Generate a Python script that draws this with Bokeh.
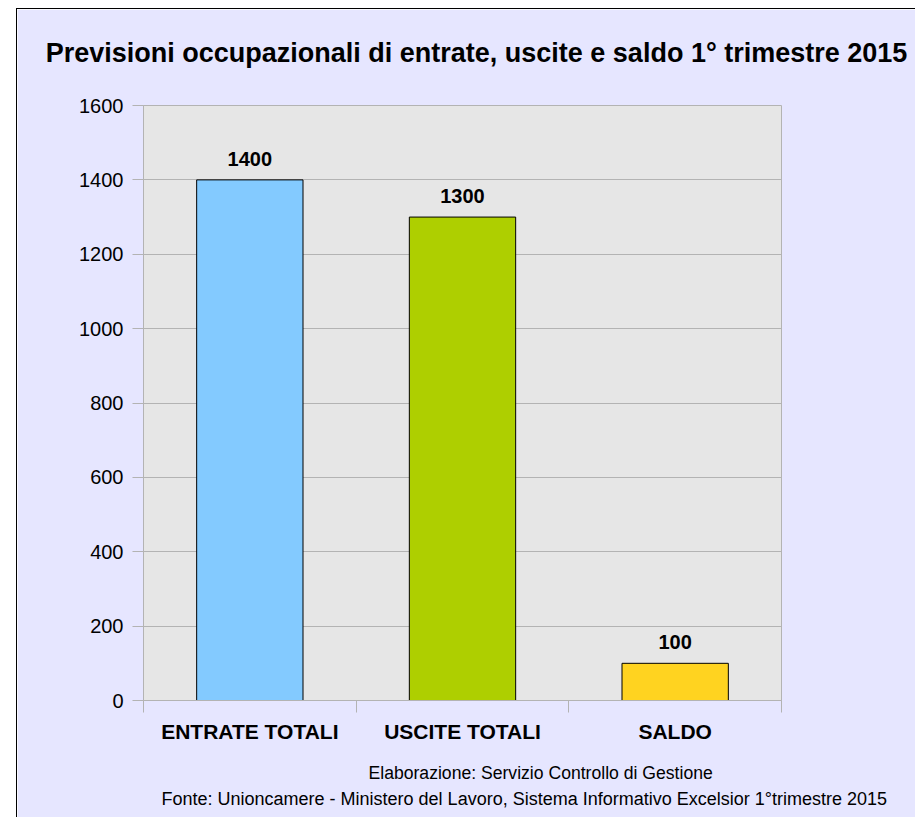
from bokeh.plotting import figure
from bokeh.models import ColumnDataSource, FixedTicker, Label, LabelSet, Spacer, Title
from bokeh.layouts import row, column
from bokeh.core.properties import value
from bokeh.embed import file_html
from bokeh.resources import INLINE

# ---- data ----
categories = ["ENTRATE TOTALI", "USCITE TOTALI", "SALDO"]
values = [1400, 1300, 100]
colors = ["#83CAFF", "#AECF00", "#FFD320"]
y_ticks = [0, 200, 400, 600, 800, 1000, 1200, 1400, 1600]
title_text = "Previsioni occupazionali di entrate, uscite e saldo 1° trimestre 2015"
note1 = "Elaborazione: Servizio Controllo di Gestione"
note2 = "Fonte: Unioncamere - Ministero del Lavoro, Sistema Informativo Excelsior 1°trimestre 2015"

FONT = "Liberation Sans"
GRID = "#B3B3B3"

positions = [i + 0.5 for i in range(len(categories))]
source = ColumnDataSource(dict(x=positions, top=values, color=colors,
                               label=[str(v) for v in values]))

p = figure(frame_width=637, frame_height=594,
           min_border_left=126, min_border_right=135,
           min_border_top=96, min_border_bottom=118,
           x_range=(0, len(categories)), y_range=(y_ticks[0], y_ticks[-1]),
           output_backend="svg", toolbar_location=None)

p.styles = {"border-left": "1px solid black", "border-top": "1px solid black"}
p.border_fill_color = "#E6E6FF"
p.background_fill_color = "#E6E6E6"
p.outline_line_color = GRID

p.xgrid.visible = False
p.ygrid.grid_line_color = GRID
p.ygrid.grid_line_width = 1

# y axis
p.yaxis.ticker = FixedTicker(ticks=y_ticks)
p.yaxis.major_tick_out = 11
p.yaxis.major_tick_in = 0
p.yaxis.minor_tick_out = 0
p.yaxis.minor_tick_in = 0
p.yaxis.axis_line_color = GRID
p.yaxis.major_tick_line_color = GRID
p.yaxis.major_label_standoff = 9
p.yaxis.major_label_text_font = FONT
p.yaxis.major_label_text_font_size = "20px"
p.yaxis.major_label_text_color = "black"

# x axis
p.xaxis.ticker = FixedTicker(ticks=positions, minor_ticks=list(range(len(categories) + 1)))
p.xaxis.major_label_overrides = {pos: cat for pos, cat in zip(positions, categories)}
p.xaxis.major_tick_out = 0
p.xaxis.major_tick_in = 0
p.xaxis.minor_tick_out = 12
p.xaxis.minor_tick_in = 0
p.xaxis.minor_tick_line_color = GRID
p.xaxis.axis_line_color = GRID
p.xaxis.major_label_standoff = 7
p.xaxis.major_label_text_font = FONT
p.xaxis.major_label_text_font_size = "21px"
p.xaxis.major_label_text_font_style = "bold"
p.xaxis.major_label_text_color = "black"

# bars
p.vbar(x="x", top="top", bottom=0, width=0.5, fill_color="color",
       line_color="black", line_width=1, source=source)

labels = LabelSet(x="x", y="top", text="label", source=source, y_offset=21,
                  text_align="center", text_baseline="middle",
                  text_font=value(FONT), text_font_size="20px",
                  text_font_style="bold", text_color="black")
p.add_layout(labels)

# title (in the top panel) and notes
p.add_layout(Label(x=333, y=53, x_units="screen", y_units="screen", text=title_text,
                   text_align="center", text_baseline="middle", text_font=FONT,
                   text_font_size="27px", text_font_style="bold",
                   text_color="black"), "above")
p.add_layout(Title(text=note1, align="left", offset=225, standoff=30,
                   text_font=FONT, text_font_size="17.6px", text_font_style="normal",
                   text_color="black"), "below")
p.add_layout(Title(text=note2, align="left", offset=18, standoff=-22,
                   text_font=FONT, text_font_size="18px", text_font_style="normal",
                   text_color="black"), "below")

layout = column(Spacer(height=8), row(Spacer(width=16), p))

with open("out.html", "w") as f:
    f.write(file_html(layout, INLINE))
